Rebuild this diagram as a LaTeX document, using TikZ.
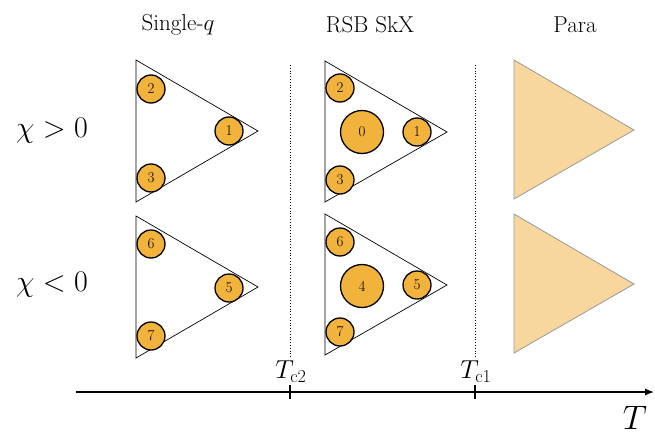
\documentclass[tikz,border=0pt]{standalone}
\usepackage{fix-cm}
\usepackage{amsmath}
\usetikzlibrary{arrows.meta,positioning}
\definecolor{spinorange}{HTML}{F2B33D}
\definecolor{parafill}{HTML}{F7D79E}
\tikzset{
  tri/.style={draw,line width=0.7pt,line join=miter},
  paratri/.style={draw=gray!80,fill=parafill,line width=0.8pt},
  spin/.style={circle,draw,line width=1.3pt,fill=spinorange,minimum size=28pt,inner sep=0pt,font=\fontsize{15}{15}\selectfont},
  spinbig/.style={spin,minimum size=43pt},
  hdr/.style={font=\fontsize{23}{25}\selectfont},
  chilbl/.style={font=\fontsize{30}{32}\selectfont},
  tclbl/.style={font=\fontsize{26}{28}\selectfont},
  sep/.style={dotted,line width=0.8pt},
  axis/.style={-{Latex[length=9pt,width=7pt]},line width=1.2pt}
}
\begin{document}
\begin{tikzpicture}[x=1pt,y=-1pt]
  \useasboundingbox (0,0) rectangle (655,436);

  % column headers
  \node[hdr] (hsingle) at (178,25) {Single-$q$};
  \node[hdr] (hrsb) at (370,25) {RSB SkX};
  \node[hdr] (hpara) at (575,25) {Para};

  % row labels
  \node[chilbl] (chipos) at (52,131) {$\chi > 0$};
  \node[chilbl] (chineg) at (52,285) {$\chi < 0$};

  % single-q, chi > 0
  \draw[tri] (136,60) -- (136,202) -- (258,131) -- cycle;
  \node[spin] (s2) at (151,89) {2};
  \node[spin] (s1) at (229,131) {1};
  \node[spin] (s3) at (151,178) {3};

  % single-q, chi < 0
  \draw[tri] (136,216) -- (136,358) -- (258,287) -- cycle;
  \node[spin] (s6) at (151,244) {6};
  \node[spin] (s5) at (229,288) {5};
  \node[spin] (s7) at (151,336) {7};

  % RSB SkX, chi > 0
  \draw[tri] (325,61) -- (325,202) -- (447,132) -- cycle;
  \node[spin] (r2) at (340,88) {2};
  \node[spinbig] (r0) at (362,132) {0};
  \node[spin] (r1) at (417,132) {1};
  \node[spin] (r3) at (340,180) {3};

  % RSB SkX, chi < 0
  \draw[tri] (325,214) -- (325,355) -- (447,285) -- cycle;
  \node[spin] (r6) at (340,242) {6};
  \node[spinbig] (r4) at (362,286) {4};
  \node[spin] (r5) at (417,285) {5};
  \node[spin] (r7) at (340,332) {7};

  % paramagnetic
  \draw[paratri] (514,60) -- (514,199) -- (634,130) -- cycle;
  \draw[paratri] (514,214) -- (514,353) -- (634,284) -- cycle;

  % phase boundaries
  \coordinate (tc2top) at (290,65);
  \coordinate (tc2bot) at (290,357);
  \coordinate (tc1top) at (475,65);
  \coordinate (tc1bot) at (475,357);
  \draw[sep] (tc2top) -- (tc2bot);
  \draw[sep] (tc1top) -- (tc1bot);

  % temperature axis
  \coordinate (axstart) at (76,392);
  \coordinate (axend) at (654,392);
  \draw[axis] (axstart) -- (axend);
  \draw[line width=1.2pt] (290,385) -- (290,399);
  \draw[line width=1.2pt] (475,385) -- (475,399);
  \node[tclbl] (tc2) at (291,372) {$T_{\mathrm{c2}}$};
  \node[tclbl] (tc1) at (476,372) {$T_{\mathrm{c1}}$};
  \node[font=\fontsize{34}{36}\selectfont,inner sep=0pt] (tlbl) at (635,418) {$T$};
\end{tikzpicture}
\end{document}
